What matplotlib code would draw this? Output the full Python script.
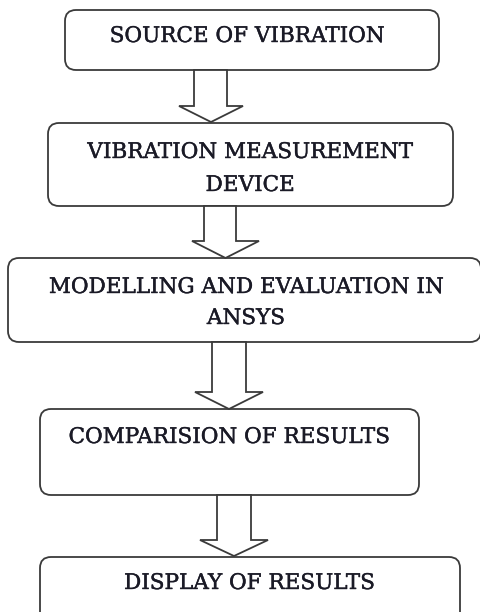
import matplotlib
matplotlib.use("Agg")
import matplotlib.pyplot as plt
from matplotlib.patches import FancyBboxPatch, Polygon
import matplotlib.patheffects as pe

# Flowchart content
steps = [
    "SOURCE OF VIBRATION",
    "VIBRATION MEASUREMENT\nDEVICE",
    "MODELLING AND EVALUATION IN\nANSYS",
    "COMPARISION OF RESULTS",
    "DISPLAY OF RESULTS",
]

# Layout (pixel coordinates, y downward): left, top, right, bottom
boxes = [
    (65, 10, 439, 70),
    (48, 123, 453, 206),
    (8, 258, 481, 342),
    (40, 409, 419, 495),
    (40, 557, 460, 625),
]
# text anchor (x center, y center of first line)
text_pos = [
    (247, 36),
    (250, 152),
    (246, 287),
    (229, 437),
    (249, 583),
]
line_gaps = [0, 33, 31, 0, 0]
# arrows: shaft left, shaft right, y top, y head start, head left, head right, tip y
arrows = [
    (194, 227, 70, 106, 179, 243, 122),
    (204, 236, 206, 241, 192, 259, 258),
    (212, 246, 342, 392, 195, 263, 409),
    (217, 251, 495, 540, 200, 268, 556),
]

W, H = 480, 612
fig = plt.figure(figsize=(W / 100, H / 100), dpi=100)
ax = fig.add_axes([0, 0, 1, 1])
ax.set_xlim(0, W)
ax.set_ylim(H, 0)
ax.axis("off")

edge = "#3a3a3a"
lw = 1.3
for (l, t, r, b) in boxes:
    rad = 11
    p = FancyBboxPatch((l + rad, t + rad), (r - l) - 2 * rad, (b - t) - 2 * rad,
                       boxstyle=f"round,pad={rad}", fc="white", ec=edge, lw=lw,
                       clip_on=False)
    ax.add_patch(p)

for (sl, sr, yt, yh, hl, hr, tip) in arrows:
    cx = (hl + hr) / 2
    pts = [(sl, yt), (sr, yt), (sr, yh), (hr, yh), (cx, tip), (hl, yh), (sl, yh)]
    ax.add_patch(Polygon(pts, closed=True, fc="white", ec=edge, lw=lw, joinstyle="miter"))

for label, (x, y), gap in zip(steps, text_pos, line_gaps):
    for i, line in enumerate(label.split("\n")):
        ax.text(x, y + i * gap, line, ha="center", va="center",
                fontsize=15.5, family="DejaVu Serif", color="#1a1a26",
                path_effects=[pe.withStroke(linewidth=0.3, foreground="#1a1a26")])

fig.savefig("out.png", dpi=100)
